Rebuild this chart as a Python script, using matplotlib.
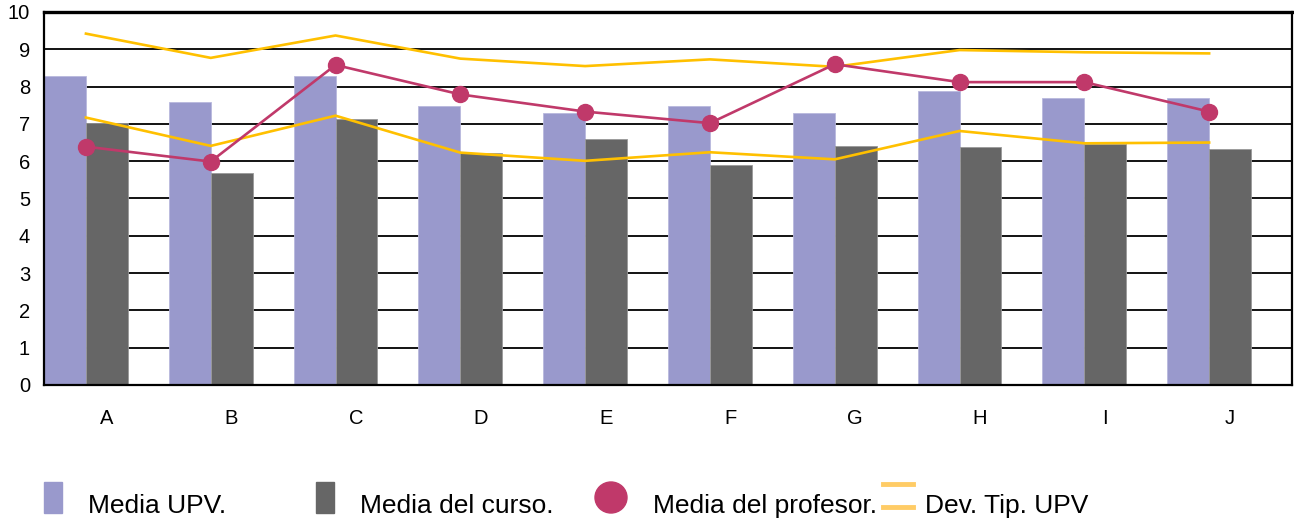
import numpy as np
import matplotlib
matplotlib.use("Agg")
import matplotlib.pyplot as plt
from matplotlib.patches import Rectangle, Ellipse
from matplotlib.lines import Line2D

categories = ["A", "B", "C", "D", "E", "F", "G", "H", "I", "J"]
media_upv = [8.28, 7.59, 8.28, 7.48, 7.28, 7.48, 7.28, 7.89, 7.69, 7.69]
media_curso = [7.02, 5.68, 7.14, 6.21, 6.60, 5.91, 6.42, 6.37, 6.46, 6.33]
media_profesor = [6.39, 5.99, 8.58, 7.79, 7.33, 7.02, 8.60, 8.12, 8.12, 7.33]
dev_upper = [9.42, 8.77, 9.37, 8.75, 8.55, 8.73, 8.53, 8.98, 8.92, 8.89]
dev_lower = [7.17, 6.41, 7.22, 6.23, 6.01, 6.24, 6.05, 6.81, 6.48, 6.50]

c_upv = "#9999CC"
c_curso = "#666666"
c_prof = "#C0396A"
c_dev = "#FFC000"

plt.rcParams["font.family"] = ["Liberation Sans", "DejaVu Sans"]

fig = plt.figure(figsize=(12.94, 5.21), dpi=100)
ax = fig.add_axes([44 / 1294, 136 / 521, 1248 / 1294, 373 / 521])

x = np.arange(len(categories))
w = 0.336
left = x - 0.5
ax.bar(left, media_upv, width=w, align="edge", color=c_upv,
       edgecolor="#B8B8DD", linewidth=0.6, zorder=2)
ax.bar(left + w, media_curso, width=w, align="edge", color=c_curso,
       edgecolor="#999999", linewidth=0.6, zorder=2)

xl = left + w
ax.plot(xl, dev_upper, color=c_dev, lw=1.9, zorder=3)
ax.plot(xl, dev_lower, color=c_dev, lw=1.9, zorder=3)
ax.plot(xl, media_profesor, color=c_prof, lw=1.9, marker="o",
        markersize=11.5, zorder=4)

ax.set_xlim(-0.5, len(categories) - 0.5)
ax.set_ylim(0, 10)
ax.set_yticks(range(0, 11))
ax.yaxis.grid(True, color="black", lw=1.3, zorder=1)
ax.set_axisbelow(True)
ax.set_xticks(x)
ax.set_xticklabels(categories)
ax.tick_params(axis="both", length=0, labelsize=14.5)
ax.tick_params(axis="y", pad=10)
ax.tick_params(axis="x", pad=17)
for s in ax.spines.values():
    s.set_linewidth(1.6)
    s.set_color("black")
ax.spines["top"].set_linewidth(2.4)

# legend
W, H = 1294, 521
def fx(px):
    return px / W
def fy(py):
    return (H - py) / H

fig.patches.append(Rectangle((fx(44), fy(513)), 18 / W, 31 / H,
                             transform=fig.transFigure, color=c_upv))
fig.text(fx(88), fy(513), "Media UPV.", fontsize=19, va="baseline")
fig.patches.append(Rectangle((fx(316), fy(513)), 18 / W, 31 / H,
                             transform=fig.transFigure, color=c_curso))
fig.text(fx(360), fy(513), "Media del curso.", fontsize=19, va="baseline")
fig.patches.append(Ellipse((fx(611), fy(497.5)), 32 / W, 31 / H,
                           transform=fig.transFigure, color=c_prof))
fig.text(fx(653), fy(513), "Media del profesor.", fontsize=19, va="baseline")
for yy in (484, 507):
    fig.lines.append(Line2D([fx(883), fx(913)], [fy(yy), fy(yy)],
                            transform=fig.transFigure, color="#FFCC66", lw=3.5))
fig.text(fx(925), fy(513), "Dev. Tip. UPV", fontsize=19, va="baseline")

fig.savefig("out.png", dpi=100)
